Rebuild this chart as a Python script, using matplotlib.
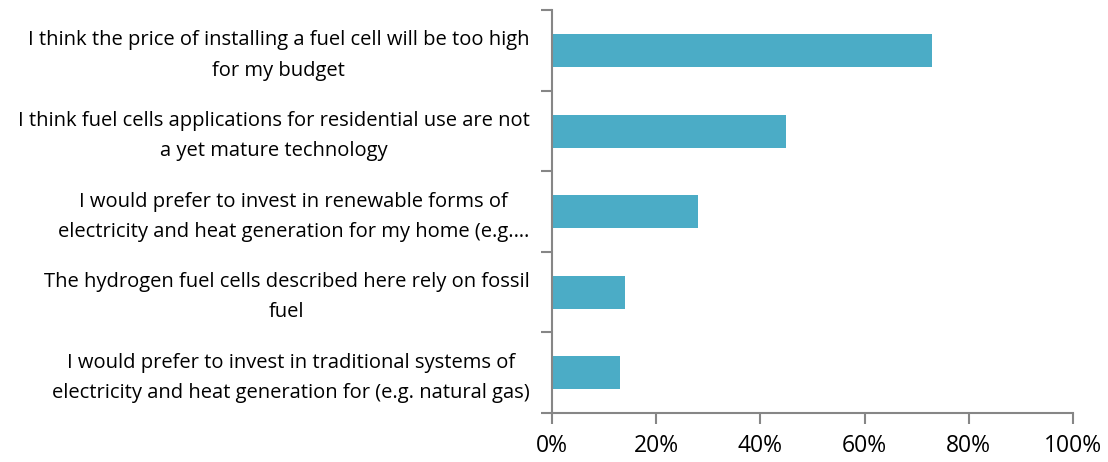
import matplotlib.pyplot as plt
from matplotlib.ticker import PercentFormatter, MultipleLocator
from matplotlib.transforms import ScaledTranslation

plt.rcParams['font.family'] = ['Open Sans', 'DejaVu Sans']

reasons = [
    'I think the price of installing a fuel cell will be too high\nfor my budget',
    'I think fuel cells applications for residential use are not\na yet mature technology',
    'I would prefer to invest in renewable forms of\nelectricity and heat generation for my home (e.g.\u2026',
    'The hydrogen fuel cells described here rely on fossil\nfuel',
    'I would prefer to invest in traditional systems of\nelectricity and heat generation for (e.g. natural gas)',
]
shares = [73, 45, 28, 14, 13]

axis_grey = '#868686'

fig = plt.figure(figsize=(11.08, 4.62), dpi=100)
ax = fig.add_axes([0.498, 0.106, 0.4705, 0.872])

pos = list(range(len(reasons)))
ax.barh(pos, shares, height=0.41, color='#4BACC6')
ax.set_ylim(len(reasons) - 0.5, -0.5)
ax.set_xlim(0, 100)

# category boundaries carry the y ticks, labels sit at bar centres
ax.set_yticks([p - 0.5 for p in pos] + [len(pos) - 0.5])
ax.set_yticklabels([])
ax.set_yticks(pos, minor=True)
ax.set_yticklabels(reasons, minor=True, fontsize=14.5, ha='right',
                   multialignment='center', linespacing=1.68)
ax.tick_params(axis='y', which='minor', length=0, pad=16)
ax.tick_params(axis='y', which='major', length=8, width=1.5, color=axis_grey)

# nudge the category text up a little
nudge = ScaledTranslation(0, 0.025, fig.dpi_scale_trans)
for lbl in ax.get_yticklabels(minor=True):
    lbl.set_transform(lbl.get_transform() + nudge)

ax.xaxis.set_major_locator(MultipleLocator(20))
ax.xaxis.set_major_formatter(PercentFormatter(decimals=0))
ax.tick_params(axis='x', length=8, width=1.5, color=axis_grey,
               labelsize=16.5, pad=7)

for side in ['top', 'right']:
    ax.spines[side].set_visible(False)
for side in ['left', 'bottom']:
    ax.spines[side].set_color(axis_grey)
    ax.spines[side].set_linewidth(1.5)

fig.savefig('out.png', dpi=100)
